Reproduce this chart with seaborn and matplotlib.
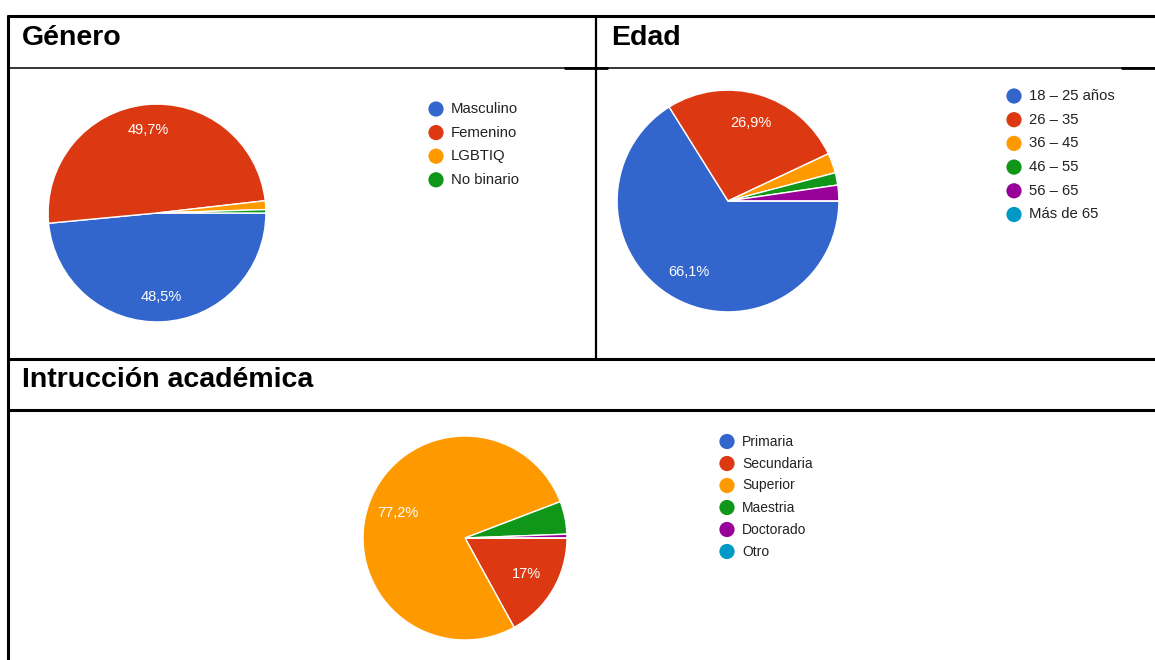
import matplotlib
matplotlib.use("Agg")
import matplotlib.pyplot as plt
import seaborn as sns

# -------------------------
# DATA
# -------------------------
genero_labels = ["Masculino", "Femenino", "LGBTIQ", "No binario"]
genero_values = [48.5, 49.7, 1.3, 0.5]

edad_labels = ["18 – 25 años", "26 – 35", "36 – 45", "46 – 55", "56 – 65", "Más de 65"]
edad_values = [66.1, 26.9, 2.9, 1.8, 2.3, 0.0]

instr_labels = ["Primaria", "Secundaria", "Superior", "Maestria", "Doctorado", "Otro"]
instr_values = [0.0, 17.0, 77.2, 5.2, 0.6, 0.0]

# google forms palette
google = ["#3366cc", "#dc3912", "#ff9900", "#109618", "#990099", "#0099c6"]

sns.set_theme(style="white")
plt.rcParams["font.family"] = ["Liberation Sans", "DejaVu Sans"]

W, H = 1155, 660
fig = plt.figure(figsize=(W / 100, H / 100), dpi=100)

# overlay axes in pixel coordinates for the table grid, titles and legends
grid = fig.add_axes([0, 0, 1, 1])
grid.set_xlim(0, W)
grid.set_ylim(H, 0)
grid.axis("off")


def pct_text(p):
    # google forms hides small slices, uses comma decimals
    if p < 6:
        return ""
    s = f"{p:.1f}".replace(".", ",")
    if s.endswith(",0"):
        s = s[:-2]
    return s + "%"


def draw_pie(values, cx, cy, r, pctdist):
    ax = fig.add_axes([(cx - r) / W, (H - cy - r) / H, 2 * r / W, 2 * r / H])
    colors = sns.color_palette(google, len(values))
    wedges, texts, autotexts = ax.pie(
        values, colors=colors, startangle=0, counterclock=False,
        autopct=pct_text, pctdistance=pctdist, radius=1,
        wedgeprops=dict(edgecolor="white", linewidth=1),
        textprops=dict(color="white", fontsize=10.5),
    )
    ax.set_xlim(-1.01, 1.01)
    ax.set_ylim(-1.01, 1.01)
    return ax


def draw_legend(labels, x, y0, step, fs):
    colors = sns.color_palette(google, len(labels))
    for i, (lab, c) in enumerate(zip(labels, colors)):
        y = y0 + i * step
        grid.scatter([x], [y], s=120, color=c, edgecolors="none", zorder=3)
        grid.text(x + 15, y, lab, fontsize=fs, color="#222222", va="center", ha="left")


# -------------------------
# Table lines
# -------------------------
lw_thick = 2.2
grid.plot([7.5, W], [16, 16], color="black", lw=lw_thick)
grid.plot([7.5, 7.5], [16, H], color="black", lw=lw_thick)
grid.plot([596, 596], [16, 358], color="black", lw=1.6)
grid.plot([7.5, W], [68, 68], color="black", lw=1.1)
grid.plot([565, 607], [68, 68], color="black", lw=2)
grid.plot([1122, W], [68, 68], color="black", lw=2)
grid.plot([7.5, W], [358.5, 358.5], color="black", lw=lw_thick)
grid.plot([7.5, W], [409.5, 409.5], color="black", lw=lw_thick)

# -------------------------
# Headers
# -------------------------
hdr = dict(fontsize=20.5, fontweight="bold", va="baseline", color="black")
grid.text(22, 45, "Género", **hdr)
grid.text(611, 45, "Edad", **hdr)
grid.text(22, 387, "Intrucción académica", **hdr)

# -------------------------
# Pies
# -------------------------
draw_pie(genero_values, 157, 213, 110, 0.77)
draw_pie(edad_values, 728, 201, 112, 0.73)
draw_pie(instr_values, 465, 538, 103, 0.70)

draw_legend(genero_labels, 436, 109, 23.6, 10.7)
draw_legend(edad_labels, 1014, 96, 23.7, 10.7)
draw_legend(instr_labels, 727, 441.5, 22, 10)

fig.savefig("out.png", dpi=100)
